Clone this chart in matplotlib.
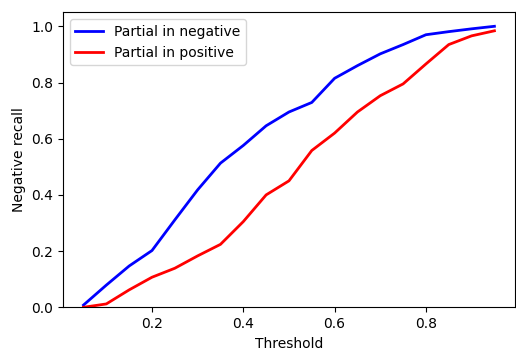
import matplotlib
matplotlib.use("Agg")
import matplotlib.pyplot as plt

thresholds = [0.05, 0.10, 0.15, 0.20, 0.25, 0.30, 0.35, 0.40, 0.45, 0.50,
              0.55, 0.60, 0.65, 0.70, 0.75, 0.80, 0.85, 0.90, 0.95]
partial_negative = [0.008, 0.079, 0.147, 0.202, 0.311, 0.418, 0.513, 0.576, 0.646, 0.695,
                    0.729, 0.815, 0.860, 0.902, 0.935, 0.970, 0.981, 0.991, 1.0]
partial_positive = [0.0, 0.012, 0.062, 0.107, 0.139, 0.183, 0.224, 0.305, 0.400, 0.450,
                    0.558, 0.620, 0.695, 0.753, 0.795, 0.866, 0.935, 0.966, 0.984]

fig = plt.figure(figsize=(5.16, 3.5), dpi=100)
ax = fig.add_axes([0.122, 0.122, 0.876, 0.843])
ax.plot(thresholds, partial_negative, color="blue", lw=2, label="Partial in negative")
ax.plot(thresholds, partial_positive, color="red", lw=2, label="Partial in positive")
ax.set_ylim(0, 1.05)
ax.set_xlim(0.005, 0.995)
ax.set_xticks([0.2, 0.4, 0.6, 0.8])
ax.set_yticks([0.0, 0.2, 0.4, 0.6, 0.8, 1.0])
ax.set_xlabel("Threshold", fontsize=10)
ax.set_ylabel("Negative recall", fontsize=10)
ax.tick_params(labelsize=10)
ax.legend(loc="upper left", fontsize=10)
fig.savefig("out.png", dpi=100)
